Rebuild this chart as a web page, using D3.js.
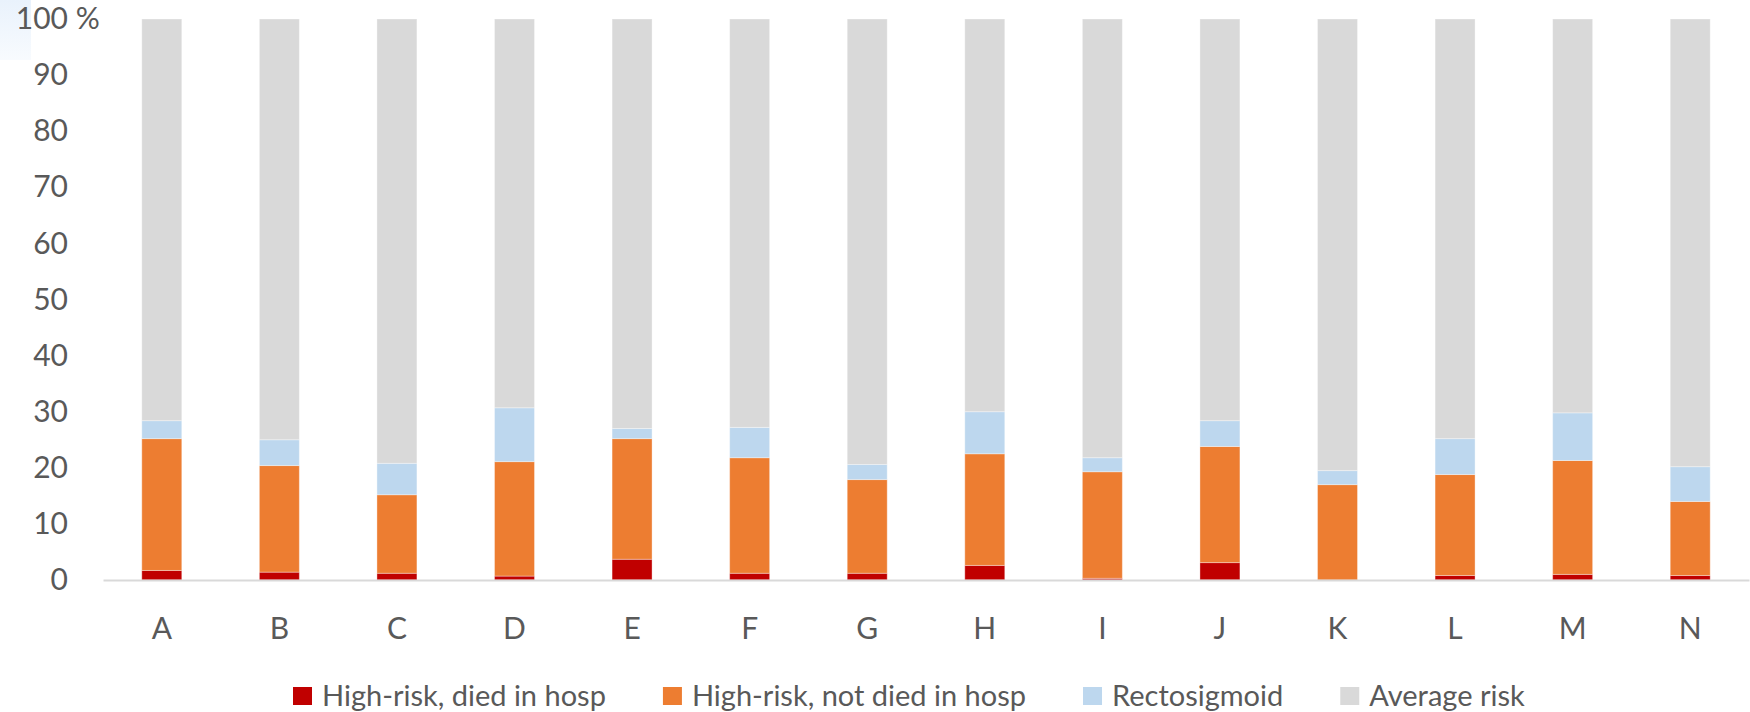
<!DOCTYPE html>
<html>
<head>
<meta charset="utf-8">
<script src="https://cdn.jsdelivr.net/npm/d3@7"></script>
<style>
  html, body { margin: 0; padding: 0; background: #ffffff; }
  svg { display: block; }
  text { font-family: Lato, "Open Sans", sans-serif; fill: #595959; }
</style>
</head>
<body>
<svg id="chart" width="1750" height="712"></svg>
<script>
// ---- Data (percent) ----
const categories = ["A","B","C","D","E","F","G","H","I","J","K","L","M","N"];
const diedInHosp    = [1.7, 1.4, 1.2, 0.7, 3.7, 1.2, 1.2, 2.6, 0.3, 3.1, 0.0, 0.8, 1.0, 0.8];
const notDiedInHosp = [23.5, 19.0, 14.0, 20.4, 21.5, 20.6, 16.7, 19.9, 19.0, 20.7, 17.0, 18.0, 20.3, 13.2];
const rectosigmoid  = [3.2, 4.6, 5.6, 9.6, 1.8, 5.4, 2.7, 7.5, 2.5, 4.6, 2.5, 6.4, 8.5, 6.2];
const averageRisk   = [71.6, 75.0, 79.2, 69.3, 73.0, 72.8, 79.4, 70.0, 78.2, 71.6, 80.5, 74.8, 70.2, 79.8];
const seriesNames   = ["High-risk, died in hosp", "High-risk, not died in hosp", "Rectosigmoid", "Average risk"];
const seriesColors  = ["#C00000", "#ED7D31", "#BDD7EE", "#D9D9D9"];
const yTicks        = [0, 10, 20, 30, 40, 50, 60, 70, 80, 90, 100];

// ---- Table built from arrays ----
const keys = ["died", "notDied", "recto", "avg"];
const table = categories.map((c, i) => ({
  cat: c,
  died: diedInHosp[i],
  notDied: notDiedInHosp[i],
  recto: rectosigmoid[i],
  avg: averageRisk[i]
}));

const svg = d3.select("#chart");
const FS = 30;
const LFS = 29;

// background glow top-left
const defs = svg.append("defs");
const grad = defs.append("linearGradient").attr("id", "glow").attr("x1", 0).attr("y1", 0).attr("x2", 0).attr("y2", 1);
grad.append("stop").attr("offset", "0%").attr("stop-color", "#e9f2fc");
grad.append("stop").attr("offset", "100%").attr("stop-color", "#f8fbfe");
svg.append("rect").attr("x", 0).attr("y", 0).attr("width", 31).attr("height", 60).attr("fill", "url(#glow)");

const x = d3.scaleBand()
  .domain(categories)
  .range([103, 1749])
  .paddingInner(0.66)
  .paddingOuter(0.33);

const y = d3.scaleLinear().domain([0, 100]).range([580, 19]);

const stacked = d3.stack().keys(keys)(table);

// bars
svg.append("g")
  .selectAll("g")
  .data(stacked)
  .join("g")
  .attr("fill", (d, i) => seriesColors[i])
  .selectAll("rect")
  .data(d => d)
  .join("rect")
  .attr("x", d => x(d.data.cat))
  .attr("width", x.bandwidth())
  .attr("y", d => y(d[1]))
  .attr("height", d => Math.max(0, y(d[0]) - y(d[1])))
  .attr("stroke", "#ffffff")
  .attr("stroke-opacity", 0.35)
  .attr("stroke-width", 1);

// x axis
const xAxis = svg.append("g")
  .attr("transform", "translate(0,580)")
  .call(d3.axisBottom(x).tickSize(0).tickSizeOuter(0).tickPadding(38));
xAxis.select(".domain").attr("stroke", "#D9D9D9").attr("stroke-width", 2);
xAxis.selectAll("text").style("font-size", FS + "px").attr("fill", "#595959");

// y axis
const yAxis = svg.append("g")
  .attr("transform", "translate(103,0)")
  .call(d3.axisLeft(y).tickValues(yTicks).tickSize(0).tickPadding(35).tickFormat(d3.format("d")));
yAxis.select(".domain").remove();
yAxis.selectAll("text").style("font-size", FS + "px").attr("fill", "#595959");
// percent sign after top label
svg.append("text")
  .attr("x", 68)
  .attr("y", y(100))
  .attr("dy", "0.32em")
  .style("font-size", FS + "px")
  .text("\u00a0%");

// legend
const legend = svg.append("g");
let lx = 293;
seriesNames.forEach((name, i) => {
  const g = legend.append("g");
  g.append("rect")
    .attr("x", lx).attr("y", 687)
    .attr("width", 19).attr("height", 18)
    .attr("fill", seriesColors[i]);
  const t = g.append("text")
    .attr("x", lx + 29).attr("y", 696)
    .attr("dy", "0.35em")
    .style("font-size", LFS + "px")
    .text(name);
  const w = t.node().getComputedTextLength();
  lx = lx + 29 + w + 57;
});
</script>
</body>
</html>
